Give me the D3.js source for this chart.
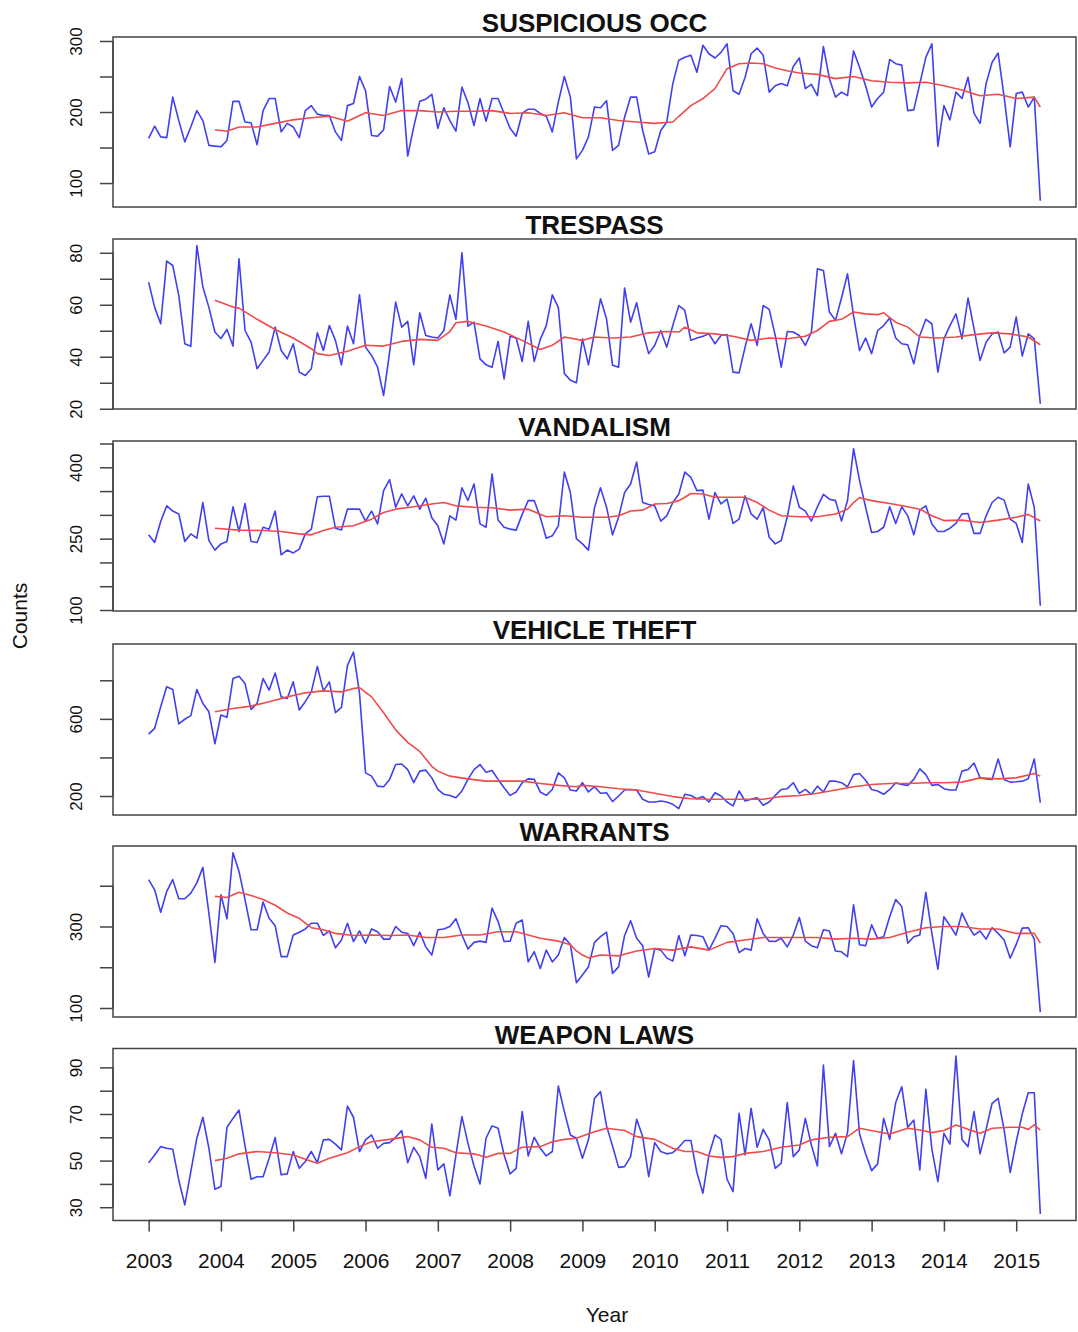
<!DOCTYPE html>
<html>
<head>
<meta charset="utf-8">
<script src="https://cdn.jsdelivr.net/npm/d3@7"></script>
<style>
  body { margin: 0; background: #fff; }
  text { font-family: "Liberation Sans", Arial, sans-serif; fill: #111; }
</style>
</head>
<body>
<script>

// monthly counts, Jan 2003 .. May 2015 (149 months)
var suspicious = [163,180,165,164,221,188,158,179,202,188,153,152,
  151,160,215,215,186,185,154,202,219,219,172,184,
  179,164,202,209,197,195,195,172,160,209,212,250,
  230,167,166,175,236,214,247,138,179,215,218,225,
  177,206,188,173,235,213,181,219,187,219,219,198,
  177,166,198,204,204,198,194,172,214,250,221,134,
  146,165,207,206,216,146,153,193,221,221,174,141,
  144,174,186,240,273,277,280,256,294,282,276,284,
  296,230,225,249,282,290,280,228,237,240,237,264,
  276,233,239,223,292,247,221,228,223,286,263,237,
  207,219,228,274,268,266,202,203,240,277,296,152,
  209,189,228,219,249,198,184,240,270,283,221,151,
  226,228,207,221,75];

var trespass = [68.7,59,52.7,76.8,75.1,63.6,45,44,82.8,66.8,59,49.5,
  47,50.5,44.1,77.7,50.1,45.6,35.4,38.6,41.8,51.4,42.4,39.2,
  45,34.1,32.8,35.4,49.2,42.4,52,46.3,36.9,51.8,45,63.8,
  43.7,40.5,36,25.1,41.8,61,51.4,53.6,36.9,56.9,48.2,47.6,
  47.2,50.1,63.8,54.4,80,51.8,53.3,39.2,36.9,36,45.9,31.5,
  47.9,47.2,38.2,53.6,38.2,46.7,52,63.8,59,33.5,31,30,
  46.9,36.9,49.5,62.3,54.6,36.7,36,66.4,53.3,60.8,49.5,41.2,
  44.4,50.1,43.7,52,59.7,57.8,46.3,47.2,47.9,48.8,45,48.2,
  48.5,34.1,33.8,43.7,52.7,44.4,59.7,58.2,48.2,36,49.7,49.5,
  48.2,44.4,49.5,73.8,73.2,57.2,54,62.6,71.9,55.9,42.4,47.2,
  41.2,50.1,52,54.9,47.2,45,44.6,37.3,48.2,54.4,52.7,34.1,
  46.9,52,56.5,46.9,62.6,50.8,38.6,45.6,48.8,49.5,41.5,43.7,
  55.3,40.3,48.8,46.9,21.9];

var vandalism = [258,242,286,319,308,302,244,260,251,326,246,226,
  239,244,317,265,324,244,242,274,270,308,216,226,
  220,228,260,270,338,339,339,272,268,312,312,312,
  287,308,281,351,374,316,344,319,340,312,335,294,
  277,239,298,289,357,330,365,281,274,386,289,274,
  270,268,301,330,330,295,251,256,277,390,347,250,
  239,226,315,357,316,258,295,347,365,411,326,322,
  319,287,298,326,344,390,379,351,352,291,347,323,
  333,282,291,340,302,291,315,253,239,246,296,361,
  316,308,287,317,343,333,330,287,330,439,372,316,
  263,265,274,317,282,317,298,258,310,319,281,265,
  265,272,282,302,303,261,261,298,326,337,331,291,
  282,242,365,316,109];

var vehicle = [521,551,663,766,752,574,598,617,752,680,637,471,
  620,608,809,821,783,649,680,809,749,838,714,706,
  792,646,689,740,872,745,792,632,660,877,946,732,
  320,303,251,248,286,363,366,337,269,329,334,294,
  234,209,203,191,226,286,337,363,323,332,286,243,
  203,221,269,289,286,221,203,234,320,294,231,226,
  269,221,248,214,217,171,200,231,234,231,183,169,
  169,174,169,157,135,209,203,186,197,169,217,200,
  169,149,226,174,183,191,152,169,203,234,238,269,
  214,234,209,251,221,277,277,269,248,311,317,282,
  234,226,209,234,269,260,255,286,341,311,255,260,
  238,231,231,329,337,371,294,289,286,392,286,272,
  274,277,289,392,166];

var warrants = [415,390,335,386,415,368,368,382,407,445,333,212,
  378,319,481,435,366,292,292,360,320,302,226,226,
  279,286,294,308,308,278,289,248,267,308,263,289,
  259,294,287,269,269,300,286,283,253,286,250,230,
  292,294,300,319,279,245,261,264,261,345,312,263,
  264,308,316,213,238,197,242,213,230,273,256,162,
  181,201,261,275,286,185,201,278,314,271,253,176,
  246,242,223,215,278,228,279,278,275,242,271,302,
  300,283,236,246,242,319,283,264,263,271,250,279,
  322,264,253,248,292,289,240,238,226,353,255,253,
  304,271,275,324,366,349,259,275,279,384,283,195,
  324,302,279,333,302,279,289,269,297,283,267,222,
  256,296,297,269,90];

var weapon = [49.1,52.4,56,55.3,54.9,41.7,31,45.3,59.6,68.6,55.3,37.7,
  38.9,64.3,68.1,71.7,56.3,42,43.1,43.1,51,59.9,43.9,44.3,
  53.9,46.7,49.6,53.9,49.1,58.9,59.1,57.1,54.6,73.4,68.6,53.9,
  58.9,61,55.3,57.4,57.7,60,62.9,49.1,55.7,51.7,42.4,65.7,
  46,48.6,34.9,52.4,68.9,57.4,47.7,40,59.6,64.9,63.9,52.4,
  44.3,46.7,71,52,60,55.3,52,53.9,82,71,61,59.6,
  51,58.9,76.7,79.6,64.9,56.3,47.1,47.4,51.7,67.7,60.3,43.1,
  57.7,53.9,52.9,53.4,55.7,58.6,58.6,44.9,36,52.4,61,59.1,
  42,36.7,70.3,52.4,72.4,55.7,63.4,58.9,46.7,48.9,74.9,51.7,
  54.6,68.1,56.7,47.7,91,56,61.7,52.9,62,92.9,61.4,52.9,
  45.7,48.6,68.1,59.1,74.9,81.7,64.3,67.4,46,80.6,54.9,41,
  61.7,57.1,94.9,59.1,56,71,52.9,63.4,74.6,76.7,63.1,44.9,
  58.1,70,79.1,79.1,27.1];

// 12-month average: [month index, value]
var suspiciousAvg = [[11,175],[13,173],[15,179],[18,179],[21,184],[24,189],[27,192],[30,194],[33,187],
  [36,199],[39,195],[42,202],[45,202],[48,200],[51,201],[54,201],[57,202],[60,198],[63,199],[66,195],
  [69,199],[72,192],[75,192],[78,188],[81,186],[84,184],[87,186],[88,194],[90,209],[92,219],[94,233],
  [96,261],[98,268],[100,269],[102,268],[104,262],[106,258],[108,255],[111,253],[114,247],[117,250],
  [120,244],[123,242],[126,241],[129,242],[132,237],[135,231],[138,223],[141,225],[144,219],[147,221],[148,207]];

var trespassAvg = [[11,61.7],[14,59.1],[15,58.7],[18,54.4],[21,50.5],[24,47.2],[27,43.1],[28,41.2],[30,40.5],
  [33,42.1],[36,44.4],[39,44.1],[42,45.9],[45,46.7],[48,46.3],[50,49.7],[51,53.1],[53,53.6],[56,51.8],
  [59,49.5],[62,46.3],[65,42.8],[67,44.4],[69,47.6],[72,46.3],[74,47.6],[77,47.2],[80,47.6],[83,49.2],
  [86,49.7],[88,49.5],[89,51.4],[91,49.2],[94,48.8],[97,47.9],[100,46.3],[103,47.2],[106,46.9],[109,47.9],
  [111,50.1],[113,53.6],[115,54.4],[117,57.2],[119,56.5],[121,56.2],[122,56.9],[124,53.3],[126,51.4],
  [128,47.6],[131,47.2],[134,47.6],[137,48.5],[140,49.2],[143,48.8],[146,47.6],[148,44.6]];

var vandalismAvg = [[11,272],[15,268],[19,267],[22,265],[25,260],[27,258],[29,267],[31,274],[34,277],
  [37,291],[39,305],[41,312],[44,317],[47,323],[49,326],[51,319],[54,316],[57,315],[60,310],[63,312],
  [66,296],[69,298],[72,295],[74,295],[76,295],[78,298],[80,308],[82,310],[84,323],[86,324],[88,330],
  [89,337],[90,345],[92,344],[94,337],[96,337],[99,337],[101,326],[103,310],[105,298],[108,296],[111,296],
  [114,302],[116,312],[117,326],[118,336],[120,330],[123,324],[126,317],[128,312],[130,298],[132,288],
  [135,289],[138,284],[141,289],[144,295],[146,301],[148,287]];

var vehicleAvg = [[11,637],[14,654],[17,666],[20,689],[23,714],[26,735],[29,745],[32,740],[34,757],[35,762],
  [37,714],[39,632],[41,543],[43,478],[45,431],[47,354],[48,329],[50,303],[53,289],[56,277],[59,277],
  [62,277],[65,265],[68,255],[71,248],[72,255],[75,248],[78,238],[81,231],[84,214],[87,197],[90,186],
  [93,183],[96,183],[99,183],[102,183],[105,197],[108,203],[111,214],[114,231],[117,248],[120,260],
  [123,265],[126,265],[129,269],[132,269],[135,272],[138,294],[141,289],[144,294],[147,317],[148,303]];

var warrantsAvg = [[11,374],[13,371],[15,384],[17,376],[19,366],[21,352],[23,333],[25,320],[27,297],[29,292],
  [31,283],[34,278],[37,279],[40,278],[43,279],[46,273],[49,273],[52,279],[55,279],[58,287],[61,287],
  [63,279],[65,271],[68,264],[70,255],[71,240],[72,230],[73,223],[75,230],[78,228],[81,240],[84,246],
  [87,242],[90,250],[93,242],[96,261],[99,267],[102,273],[105,273],[108,273],[111,273],[114,269],
  [117,271],[120,269],[123,273],[126,286],[129,297],[132,300],[135,300],[138,294],[141,294],[144,283],
  [147,283],[148,259]];

var weaponAvg = [[11,50],[13,51],[15,52.9],[18,53.9],[21,53.4],[24,52.4],[26,50.6],[28,48.9],[30,51],
  [33,53.4],[35,56],[37,58.1],[40,59.1],[43,60.3],[45,58.9],[47,55.7],[49,55.3],[51,53.4],[54,52.9],
  [56,51.4],[58,53.1],[60,53.1],[62,55.7],[65,56],[67,58.1],[69,59.1],[71,59.6],[72,60.6],[74,62.4],
  [76,63.9],[79,62.9],[81,60.3],[84,59.1],[87,55.3],[89,53.9],[91,53.9],[93,52],[95,51.4],[97,51.7],
  [99,53.1],[102,53.9],[105,55.7],[108,56.7],[110,58.9],[113,60],[116,60.3],[118,63.9],[121,62.4],
  [123,61.4],[126,63.9],[128,63.1],[130,62],[132,62.9],[134,65.3],[136,63.4],[138,61.7],[140,63.9],
  [143,64.3],[145,64.3],[146,63.4],[147,65.3],[148,63.1]];

var titles = ["SUSPICIOUS OCC", "TRESPASS", "VANDALISM", "VEHICLE THEFT", "WARRANTS", "WEAPON LAWS"];
var years = d3.range(2003, 2016);

var panels = [
  {title: titles[0], counts: suspicious, avg: suspiciousAvg, top: 37, bottom: 207, domain: [66.3, 305.6],
   ticks: [100,150,200,250,300], labels: [100,200,300]},
  {title: titles[1], counts: trespass, avg: trespassAvg, top: 239, bottom: 409, domain: [19.9, 85.3],
   ticks: [20,30,40,50,60,70,80], labels: [20,40,60,80]},
  {title: titles[2], counts: vandalism, avg: vandalismAvg, top: 441, bottom: 611, domain: [97.9, 455.3],
   ticks: [100,150,200,250,300,350,400,450], labels: [100,250,400]},
  {title: titles[3], counts: vehicle, avg: vehicleAvg, top: 644, bottom: 815, domain: [101.5, 988.2],
   ticks: [200,400,600,800], labels: [200,600]},
  {title: titles[4], counts: warrants, avg: warrantsAvg, top: 846, bottom: 1017, domain: [77.9, 497.5],
   ticks: [100,200,300,400], labels: [100,300]},
  {title: titles[5], counts: weapon, avg: weaponAvg, top: 1048.5, bottom: 1220.5, domain: [24.3, 98.1],
   ticks: [30,40,50,60,70,80,90], labels: [30,50,70,90]}
];

var svg = d3.select("body").append("svg").attr("width", 1078).attr("height", 1332);

var left = 113, right = 1076;
var x = d3.scaleLinear().domain([2002.507, 2015.827]).range([left, right]);
function month(i) { return 2003 + i / 12; }

panels.forEach(function(p) {
  var y = d3.scaleLinear().domain(p.domain).range([p.bottom, p.top]);
  var g = svg.append("g");

  var countLine = d3.line().x((d, i) => x(month(i))).y(d => y(d));
  var avgLine = d3.line().x(d => x(month(d[0]))).y(d => y(d[1]));

  g.append("path").datum(p.counts).attr("d", countLine)
      .attr("fill", "none").attr("stroke", "#4040f0").attr("stroke-width", 1.6)
      .attr("stroke-linejoin", "round");
  g.append("path").datum(p.avg).attr("d", avgLine)
      .attr("fill", "none").attr("stroke", "#f04a4a").attr("stroke-width", 1.6)
      .attr("stroke-linejoin", "round");

  g.append("rect").attr("x", left).attr("y", p.top)
      .attr("width", right - left).attr("height", p.bottom - p.top)
      .attr("fill", "none").attr("stroke", "#444").attr("stroke-width", 1.5);

  var ax = g.append("g").attr("transform", "translate(" + left + ",0)")
      .call(d3.axisLeft(y).tickValues(p.ticks).tickSize(13).tickSizeOuter(0)
            .tickFormat(d => p.labels.indexOf(d) >= 0 ? d : ""));
  ax.select(".domain").remove();
  ax.append("line").attr("x1", 0).attr("x2", 0)
      .attr("y1", y(p.ticks[0])).attr("y2", y(p.ticks[p.ticks.length - 1]))
      .attr("stroke", "#444").attr("stroke-width", 1.5);
  ax.selectAll(".tick line").attr("stroke", "#444").attr("stroke-width", 1.5);
  ax.selectAll(".tick text")
      .attr("x", 0).attr("dy", 0).attr("y", 0)
      .attr("transform", "translate(-31,0) rotate(-90)")
      .attr("text-anchor", "middle")
      .style("font-size", "17px").style("font-family", null).attr("fill", "#111");

  g.append("text").attr("x", (left + right) / 2).attr("y", p.top - 5)
      .attr("text-anchor", "middle")
      .style("font-size", "26px").style("font-weight", "bold")
      .text(p.title);
});

// year axis under the last panel
var last = panels[panels.length - 1];
var xa = svg.append("g").attr("transform", "translate(0," + last.bottom + ")")
    .call(d3.axisBottom(x).tickValues(years).tickSize(11).tickFormat(d3.format("d")));
xa.select(".domain").remove();
xa.append("line").attr("x1", x(2003)).attr("x2", x(2015)).attr("y1", 0).attr("y2", 0)
    .attr("stroke", "#444").attr("stroke-width", 1.5);
xa.selectAll(".tick line").attr("stroke", "#444").attr("stroke-width", 1.5);
xa.selectAll(".tick text").attr("y", 47).attr("dy", 0)
    .style("font-size", "21px").style("font-family", null).attr("fill", "#111");

svg.append("text").attr("x", 607).attr("y", 1322).attr("text-anchor", "middle")
    .style("font-size", "21px").text("Year");
svg.append("text").attr("transform", "translate(27,616) rotate(-90)").attr("text-anchor", "middle")
    .style("font-size", "21px").text("Counts");

</script>
</body>
</html>
